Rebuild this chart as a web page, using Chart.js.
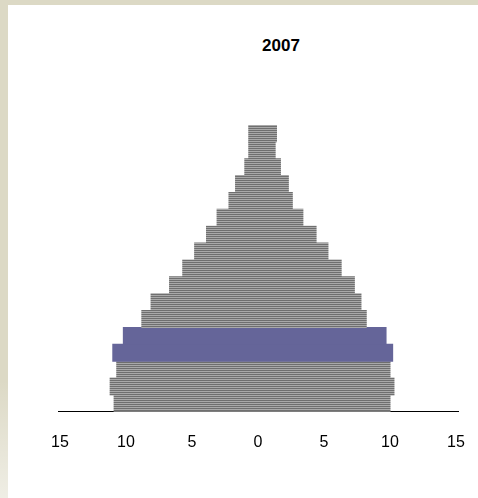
<!DOCTYPE html>
<html>
<head>
<meta charset="utf-8">
<script src="https://cdn.jsdelivr.net/npm/chart.js@4.4.0/dist/chart.umd.min.js"></script>
<style>
  html, body { margin: 0; padding: 0; }
  body { width: 478px; height: 498px; background: #dcd9c5; position: relative; overflow: hidden; }
  #panel { position: absolute; left: 8px; top: 5px; right: 0; bottom: 0; background: #fff; }
  #streak { position: absolute; left: 0; top: 380px; width: 8px; height: 118px;
            background: linear-gradient(to bottom, rgba(255,255,255,0), rgba(255,255,255,0.55)); }
  #title { position: absolute; left: 241px; top: 36px; width: 80px; line-height: 20px; text-align: center;
           font: bold 17px "Liberation Sans", Arial, sans-serif; color: #000; }
  #chart { position: absolute; left: 0; top: 0; }
</style>
</head>
<body>
<div id="panel"></div>
<div id="streak"></div>
<div id="title">2007</div>
<canvas id="chart" width="478" height="498"></canvas>
<script>
// --- données : groupes d'âge, du plus jeune au plus âgé ---
const AGE_GROUPS = ['0-4', '5-9', '10-14', '15-19', '20-24', '25-29', '30-34', '35-39', '40-44',
                    '45-49', '50-54', '55-59', '60-64', '65-69', '70-74', '75-79', '80-84'];
const LEFT_VALUES  = [10.9, 11.2, 10.7, 11.0, 10.2, 8.8, 8.1, 6.7, 5.7, 4.8, 3.9, 3.1, 2.2, 1.7, 1.0, 0.7, 0.7];
const RIGHT_VALUES = [10.0, 10.3, 10.0, 10.2, 9.7, 8.2, 7.8, 7.3, 6.3, 5.3, 4.4, 3.4, 2.6, 2.3, 1.7, 1.3, 1.4];
const HIGHLIGHT_GROUPS = ['15-19', '20-24'];
const X_TICKS = [-15, -10, -5, 0, 5, 10, 15];

const PURPLE = '#656599';

// motif rayé gris des barres
function makeStripes() {
    const c = document.createElement('canvas');
    c.width = 4;
    c.height = 2;
    const g = c.getContext('2d');
    g.fillStyle = '#6f6f6f';
    g.fillRect(0, 0, 4, 1);
    g.fillStyle = '#a9a9a9';
    g.fillRect(0, 1, 4, 1);
    return g.createPattern(c, 'repeat');
}
const stripes = makeStripes();
const colors = AGE_GROUPS.map(g => HIGHLIGHT_GROUPS.includes(g) ? PURPLE : stripes);

// inflateAmount : évite le liseré blanc entre les deux moitiés
const barStyle = { backgroundColor: colors, borderWidth: 0, barPercentage: 1, categoryPercentage: 1, inflateAmount: 0.5 };

const ctx = document.getElementById('chart').getContext('2d');
new Chart(ctx, {
    type: 'bar',
    data: {
        labels: AGE_GROUPS,
        datasets: [
            { data: LEFT_VALUES.map(v => -v), ...barStyle },
            { data: RIGHT_VALUES, ...barStyle }
        ]
    },
    options: {
        indexAxis: 'y',
        responsive: false,
        animation: false,
        layout: { padding: { left: 58, right: 20, top: 125, bottom: 45 } },
        plugins: {
            legend: { display: false },
            tooltip: { enabled: false },
            title: { display: false }
        },
        scales: {
            x: {
                stacked: true,
                min: -15.15,
                max: 15.15,
                // graduations invisibles : elles servent juste à écarter les étiquettes de l'axe
                grid: { display: true, drawOnChartArea: false, drawTicks: true, tickLength: 20, color: 'rgba(0,0,0,0)' },
                border: { display: true, color: '#000', width: 1 },
                afterBuildTicks: scale => { scale.ticks = X_TICKS.map(v => ({ value: v })); },
                ticks: {
                    autoSkip: false,
                    maxRotation: 0,
                    padding: 1,
                    color: '#000',
                    font: { family: '"Liberation Sans", Arial, sans-serif', size: 16 },
                    callback: v => Math.abs(v)
                }
            },
            y: {
                stacked: true,
                reverse: true,
                display: false,
                grid: { display: false }
            }
        }
    }
});
</script>
</body>
</html>
